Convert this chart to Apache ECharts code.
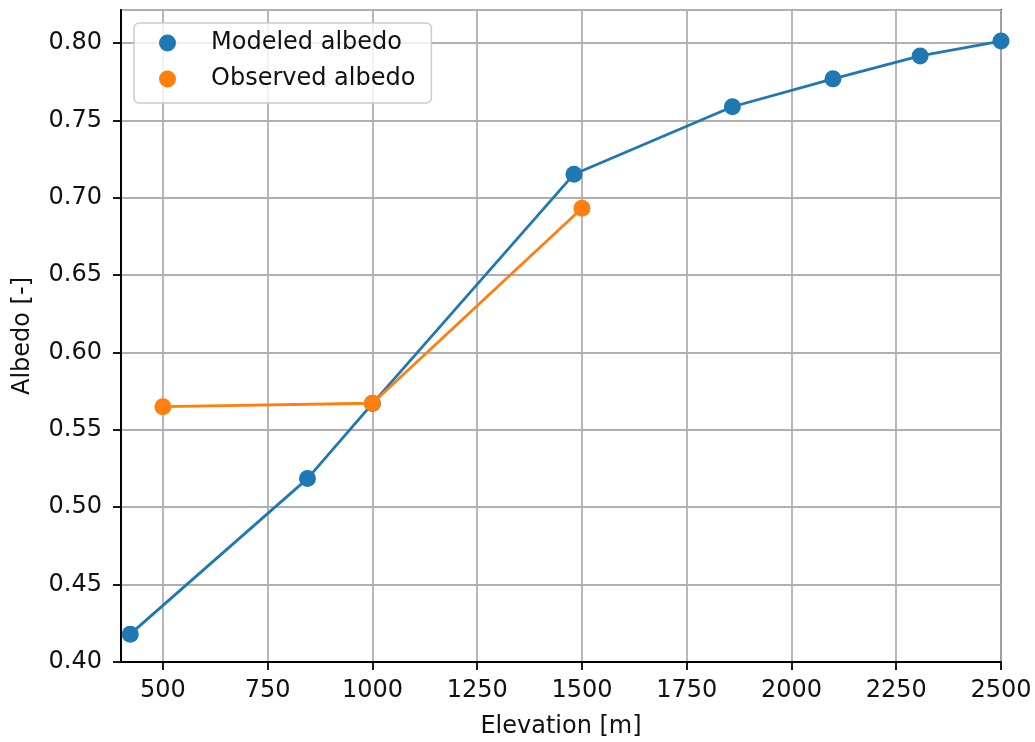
<!DOCTYPE html>
<html>
<head>
<meta charset="utf-8">
<script src="https://cdn.jsdelivr.net/npm/echarts@6/dist/echarts.min.js"></script>
<style>
  html, body { margin: 0; padding: 0; background: #fff; }
  #chart { width: 1035px; height: 742px; }
</style>
</head>
<body>
<div id="chart"></div>
<script>
// Albedo profile along elevation
const modeledElevation = [422, 845, 1000, 1481, 1859, 2099, 2307, 2500];
const modeledAlbedo    = [0.418, 0.5185, 0.567, 0.7152, 0.7588, 0.7768, 0.7916, 0.8012];
const observedElevation = [500, 1000, 1500];
const observedAlbedo    = [0.565, 0.5672, 0.6932];
const elevationTicks = [500, 750, 1000, 1250, 1500, 1750, 2000, 2250, 2500];

const FONT = 'DejaVu Sans';
const TEXT = '#111';
const FS = 24;

const chart = echarts.init(document.getElementById('chart'), null, { renderer: 'canvas' });

const pairs = (xs, ys) => xs.map((x, i) => [x, ys[i]]);

chart.setOption({
  animation: false,
  backgroundColor: '#fff',
  grid: {
    left: 121, right: 34, top: 10, bottom: 80,
    outerBoundsMode: 'none', containLabel: false,
    show: true, borderColor: '#000', borderWidth: 1.8, backgroundColor: 'transparent'
  },
  legend: {
    left: 134, top: 23,
    orient: 'vertical',
    icon: 'circle',
    itemWidth: 17, itemHeight: 17,
    itemGap: 8,
    padding: [6, 16, 10, 25],
    backgroundColor: 'rgba(255,255,255,0.8)',
    borderColor: '#cccccc', borderWidth: 1.5, borderRadius: 5,
    textStyle: { fontFamily: FONT, fontSize: FS, color: TEXT, lineHeight: 28, padding: [0, 0, 0, 30] },
    data: ['Modeled albedo', 'Observed albedo']
  },
  xAxis: {
    type: 'value', min: 400, max: 2500,
    name: 'Elevation [m]', nameLocation: 'middle', nameGap: 53,
    nameTextStyle: { fontFamily: FONT, fontSize: FS, color: TEXT },
    axisLine: { show: true, onZero: false, lineStyle: { color: '#000', width: 1.8 } },
    axisTick: { show: true, length: 8, lineStyle: { color: '#000', width: 1.8 }, customValues: elevationTicks },
    axisLabel: { fontFamily: FONT, fontSize: FS, color: TEXT, margin: 17, customValues: elevationTicks, formatter: v => String(v) },
    splitLine: { show: true, lineStyle: { color: '#b0b0b0', width: 1.8 } }
  },
  yAxis: {
    type: 'value', min: 0.4, max: 0.8213, interval: 0.05,
    name: 'Albedo [-]', nameLocation: 'middle', nameGap: 86,
    nameTextStyle: { fontFamily: FONT, fontSize: FS, color: TEXT },
    axisLine: { show: true, onZero: false, lineStyle: { color: '#000', width: 1.8 } },
    axisTick: { show: true, length: 8, lineStyle: { color: '#000', width: 1.8 } },
    axisLabel: { fontFamily: FONT, fontSize: FS, color: TEXT, margin: 19, formatter: v => v.toFixed(2), showMaxLabel: false },
    splitLine: { show: true, lineStyle: { color: '#b0b0b0', width: 1.8 } }
  },
  series: [
    {
      name: 'Modeled albedo', type: 'line',
      data: pairs(modeledElevation, modeledAlbedo),
      color: '#1f77b4',
      lineStyle: { width: 2.8, color: '#1f77b4' },
      symbol: 'circle', symbolSize: 17, showAllSymbol: true,
      itemStyle: { color: '#1f77b4' },
      clip: false, z: 3
    },
    {
      name: 'Observed albedo', type: 'line',
      data: pairs(observedElevation, observedAlbedo),
      color: '#ff7f0e',
      lineStyle: { width: 2.8, color: '#ff7f0e' },
      symbol: 'circle', symbolSize: 17, showAllSymbol: true,
      itemStyle: { color: '#ff7f0e' },
      clip: false, z: 4
    }
  ]
});
</script>
</body>
</html>
